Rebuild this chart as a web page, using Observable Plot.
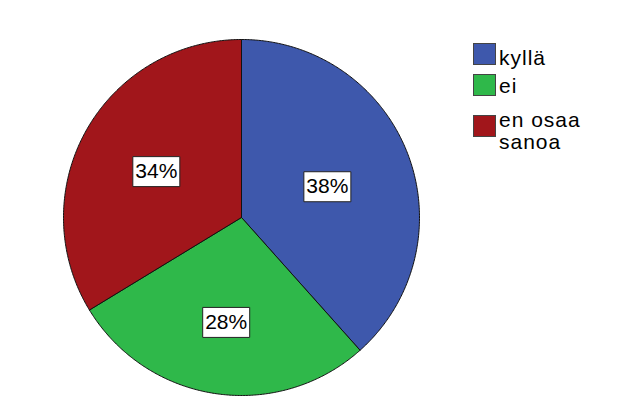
<!DOCTYPE html>
<html>
<head>
<meta charset="utf-8">
<script src="https://cdn.jsdelivr.net/npm/d3@7"></script>
<script src="https://cdn.jsdelivr.net/npm/@observablehq/plot@0.6"></script>
<style>
  body { margin: 0; background: #fff; }
  #wrap { position: relative; width: 633px; height: 401px; font-family: Arial, "Liberation Sans", sans-serif; }
  .legend-item { position: absolute; left: 473px; }
  .sw { position: absolute; left: 0; top: 0; width: 21px; height: 20px; border: 1px solid #444; }
  .lt { position: absolute; left: 26px; font-size: 21px; line-height: 22px; letter-spacing: 1px; color: #000; white-space: nowrap; }
</style>
</head>
<body>
<div id="wrap"></div>
<script>
const categories = ["kyllä", "ei", "en osaa sanoa"];
const legendLines = [["kyllä"], ["ei"], ["en osaa", "sanoa"]];
const values = [38.4, 27.9, 33.7];
const colors = ["#3E58AC", "#2FB84A", "#A1161B"];

const total = d3.sum(values);
const slices = [];
const labels = [];
let acc = 0;
values.forEach((v, i) => {
  const a0 = acc / total * 2 * Math.PI;
  acc += v;
  const a1 = acc / total * 2 * Math.PI;
  const pts = [{cat: categories[i], x: 0, y: 0}];
  const n = Math.max(2, Math.ceil((a1 - a0) / (Math.PI / 360)));
  for (let k = 0; k <= n; k++) {
    const a = a0 + (a1 - a0) * k / n;
    pts.push({cat: categories[i], x: Math.sin(a), y: Math.cos(a)});
  }
  pts.push({cat: categories[i], x: 0, y: 0});
  slices.push(...pts);
  const am = (a0 + a1) / 2;
  const th = a1 - a0;
  const lr = 4 * Math.sin(th / 2) / (3 * th); // sector centroid distance
  labels.push({cat: categories[i], x: lr * Math.sin(am), y: lr * Math.cos(am), text: Math.round(v) + "%"});
});

const boxSymbol = { draw(ctx) { ctx.rect(-23.5, -15, 47, 30); } };

const chart = Plot.plot({
  width: 633,
  height: 401,
  style: { fontFamily: "Arial, 'Liberation Sans', sans-serif", background: "#fff" },
  x: { domain: [-1, 1], range: [63, 419], axis: null },
  y: { domain: [-1, 1], range: [395, 39], axis: null },
  color: { domain: categories, range: colors },
  marks: [
    Plot.line(slices, { x: "x", y: "y", z: "cat", fill: "cat", stroke: "#111", strokeWidth: 1, curve: "linear", strokeLinejoin: "round" }),
    Plot.dot(labels, { x: "x", y: "y", dy: 2, symbol: boxSymbol, fill: "#fff", stroke: "#222", strokeWidth: 1, r: 10 }),
    Plot.text(labels, { x: "x", y: "y", dy: 2, text: "text", fontSize: 21, fill: "#000" })
  ]
});

const wrap = document.getElementById("wrap");
wrap.appendChild(chart);
chart.style.position = "absolute";
chart.style.left = "0";
chart.style.top = "0";

const swTops = [43, 74, 115];
const textTops = [47, 75, 109];
categories.forEach((c, i) => {
  const item = document.createElement("div");
  item.className = "legend-item";
  item.style.top = "0px";
  const sw = document.createElement("div");
  sw.className = "sw";
  sw.style.background = colors[i];
  sw.style.top = swTops[i] + "px";
  const t = document.createElement("div");
  t.className = "lt";
  t.style.top = textTops[i] + "px";
  t.innerHTML = legendLines[i].join("<br>");
  item.appendChild(sw);
  item.appendChild(t);
  wrap.appendChild(item);
});
</script>
</body>
</html>
